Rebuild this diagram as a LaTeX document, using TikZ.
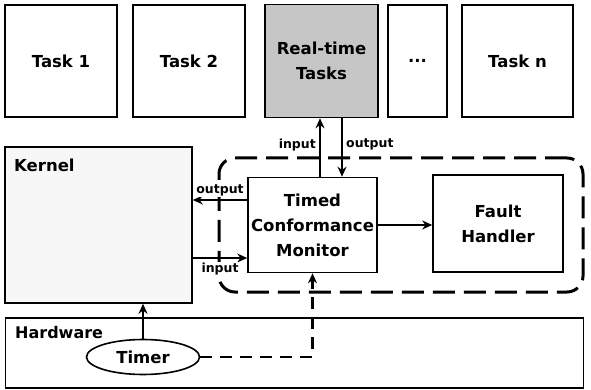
\documentclass[tikz,border=0pt]{standalone}
\usepackage{fontspec}
\setmainfont{DejaVu Sans}
\usetikzlibrary{arrows.meta,shapes.geometric}

\begin{document}
\begin{tikzpicture}[x=1pt, y=-1pt,
  box/.style={draw, line width=1.6pt, align=center, inner sep=2pt,
    font=\bfseries\fontsize{16.5}{25}\selectfont},
  arr/.style={line width=2.4pt, -{Stealth[length=10pt,width=9pt]}},
  lbl/.style={fill=white, inner sep=1pt, font=\bfseries\fontsize{12.5}{14}\selectfont},
  zone/.style={draw, line width=3pt, dash pattern=on 22pt off 9pt, rounded corners=16pt}]
  \useasboundingbox (0,0) rectangle (591,390);

  % tasks
  \node[box, minimum width=112pt, minimum height=112pt] (task1) at (61,61) {Task 1};
  \node[box, minimum width=112pt, minimum height=112pt] (task2) at (189,61) {Task 2};
  \node[box, fill=gray!45, minimum width=113pt, minimum height=113pt] (rt) at (321.5,61) {Real-time\\Tasks};
  \node[box, minimum width=59pt, minimum height=112pt] (dots) at (417.5,61) {...};
  \node[box, minimum width=111pt, minimum height=112pt] (taskn) at (517.5,61) {Task n};

  % monitor zone
  \node[zone, minimum width=364pt, minimum height=134pt] (zone) at (401,225) {};

  % kernel, monitor, handler
  \node[box, fill=gray!6, minimum width=187pt, minimum height=156pt] (kernel) at (98.5,225) {};
  \node[anchor=west, inner sep=0pt, font=\bfseries\fontsize{16.5}{18}\selectfont] (kernlbl) at (14,165) {Kernel};
  \node[box, fill=white, minimum width=129pt, minimum height=95pt] (tcm) at (312.5,225) {Timed\\Conformance\\Monitor};
  \node[box, fill=white, minimum width=130pt, minimum height=97pt] (fault) at (498,223.5) {Fault\\Handler};

  % hardware
  \node[box, minimum width=578pt, minimum height=70pt] (hw) at (294.5,353) {};
  \node[anchor=west, inner sep=0pt, font=\bfseries\fontsize{16}{18}\selectfont] (hwlbl) at (15,333) {Hardware};
  \node[box, ellipse, fill=white, minimum width=113pt, minimum height=35pt] (timer) at (143,357) {Timer};

  \coordinate (outk) at (0,200);
  \coordinate (ink) at (0,258);

  % connectors
  \draw[arr] ([xshift=7.5pt]tcm.north) -- ([xshift=7.5pt]tcm.north |- rt.south)
    node[lbl, pos=0.55, left=2pt] {input};
  \draw[arr] ([xshift=29.5pt]tcm.north |- rt.south) -- ([xshift=29.5pt]tcm.north)
    node[lbl, pos=0.45, right=2pt] {output};
  \draw[arr] (tcm.west |- outk) -- (kernel.east |- outk) node[lbl, midway, above=2pt] {output};
  \draw[arr] (kernel.east |- ink) -- (tcm.west |- ink) node[lbl, midway, below=3pt] {input};
  \draw[arr] (tcm.east) -- (tcm.east -| fault.west);
  \draw[arr] (timer.north) -- (timer.north |- kernel.south);
  \draw[line width=2.8pt, dash pattern=on 12pt off 8pt, -{Stealth[length=10pt,width=9pt]}]
    (timer.east) -| (tcm.south);
\end{tikzpicture}
\end{document}
